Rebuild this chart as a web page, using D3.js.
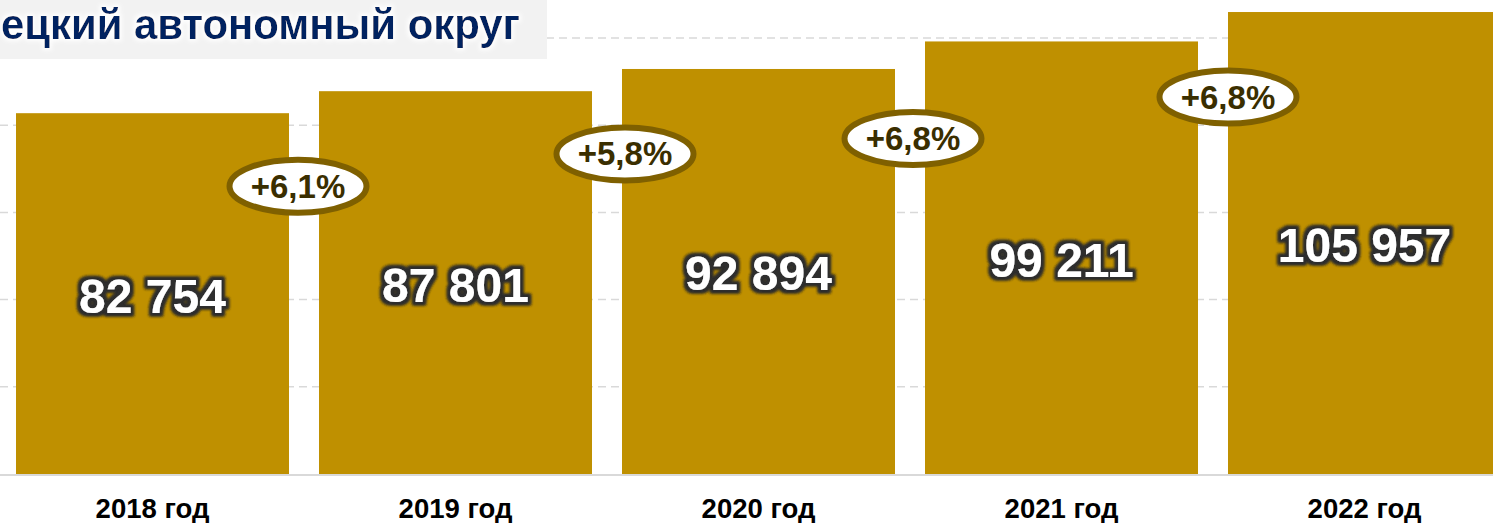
<!DOCTYPE html>
<html lang="ru">
<head>
<meta charset="utf-8">
<script src="https://cdn.jsdelivr.net/npm/d3@7"></script>
<style>
  html, body { margin: 0; padding: 0; background: #ffffff; }
  svg { display: block; font-family: Arial, "Liberation Sans", sans-serif; }
</style>
</head>
<body>
<svg id="chart" width="1493" height="523"></svg>
<script>
// Среднемесячная заработная плата, рублей
const years = ["2018 год", "2019 год", "2020 год", "2021 год", "2022 год"];
const values = [82754, 87801, 92894, 99211, 105957];
const growthLabels = ["+6,1%", "+5,8%", "+6,8%", "+6,8%"];
const gridTicks = [20000, 40000, 60000, 80000, 100000];
const titleText = "ецкий автономный округ";

// placement of the growth badges: shift from the gap centre, drop below the next bar's top
const badgeLayout = [
  { dx: -6, dy: 95 },
  { dx: 18, dy: 85 },
  { dx: 3,  dy: 97 },
  { dx: 15, dy: 85 }
];

const W = 1493, H = 523;
const svg = d3.select("#chart");

const x = d3.scaleBand()
  .domain(years)
  .range([1, 1516])
  .paddingInner(0.099)
  .paddingOuter(0.0495);

const y = d3.scaleLinear()
  .domain([0, 100000])
  .range([474, 38]);

const defs = svg.append("defs");

// dark glow behind white value labels
const halo = defs.append("filter").attr("id", "halo")
  .attr("x", "-20%").attr("y", "-30%").attr("width", "140%").attr("height", "160%");
halo.append("feMorphology").attr("in", "SourceAlpha").attr("operator", "dilate").attr("radius", 2.5).attr("result", "d");
halo.append("feGaussianBlur").attr("in", "d").attr("stdDeviation", 1.5).attr("result", "b");
halo.append("feFlood").attr("flood-color", "#2e2e2e");
halo.append("feComposite").attr("in2", "b").attr("operator", "in").attr("result", "s");
const hm = halo.append("feMerge");
hm.append("feMergeNode").attr("in", "s");
hm.append("feMergeNode").attr("in", "s");
hm.append("feMergeNode").attr("in", "SourceGraphic");

// soft white glow behind the title
const glow = defs.append("filter").attr("id", "glow")
  .attr("x", "-5%").attr("y", "-30%").attr("width", "110%").attr("height", "160%");
glow.append("feMorphology").attr("in", "SourceAlpha").attr("operator", "dilate").attr("radius", 1.5).attr("result", "d");
glow.append("feGaussianBlur").attr("in", "d").attr("stdDeviation", 2).attr("result", "b");
glow.append("feFlood").attr("flood-color", "#ffffff");
glow.append("feComposite").attr("in2", "b").attr("operator", "in").attr("result", "s");
const gm = glow.append("feMerge");
gm.append("feMergeNode").attr("in", "s");
gm.append("feMergeNode").attr("in", "SourceGraphic");

// dashed horizontal gridlines
svg.append("g")
  .selectAll("line")
  .data(gridTicks)
  .join("line")
  .attr("x1", 0).attr("x2", W)
  .attr("y1", d => y(d)).attr("y2", d => y(d))
  .attr("stroke", "#d9d9d9")
  .attr("stroke-width", 1.5)
  .attr("stroke-dasharray", "8,5");

// baseline
svg.append("line")
  .attr("x1", 0).attr("x2", W)
  .attr("y1", y(0) + 1).attr("y2", y(0) + 1)
  .attr("stroke", "#d9d9d9")
  .attr("stroke-width", 2);

// bars
svg.append("g")
  .selectAll("rect")
  .data(values)
  .join("rect")
  .attr("x", (d, i) => x(years[i]))
  .attr("y", d => y(d))
  .attr("width", x.bandwidth())
  .attr("height", d => y(0) - y(d))
  .attr("fill", "#bf9000");

// value labels inside bars
svg.append("g")
  .selectAll("text")
  .data(values)
  .join("text")
  .attr("x", (d, i) => x(years[i]) + x.bandwidth() / 2)
  .attr("y", d => (y(d) + y(0)) / 2 + 2 + 17)
  .attr("text-anchor", "middle")
  .attr("font-size", 48)
  .attr("font-weight", "bold")
  .attr("fill", "#ffffff")
  .attr("filter", "url(#halo)")
  .text(d => d3.format(",")(d).replace(/,/g, " "));

// growth badges between neighbouring bars
const badges = svg.append("g")
  .selectAll("g")
  .data(growthLabels)
  .join("g")
  .attr("transform", (d, i) => {
    const gapCenter = (x(years[i]) + x.bandwidth() + x(years[i + 1])) / 2;
    const cx = gapCenter + badgeLayout[i].dx;
    const cy = y(values[i + 1]) + badgeLayout[i].dy;
    return `translate(${cx},${cy})`;
  });

badges.append("ellipse")
  .attr("rx", 68.5)
  .attr("ry", 26.5)
  .attr("fill", "#ffffff")
  .attr("stroke", "#7f6000")
  .attr("stroke-width", 6);

badges.append("text")
  .attr("text-anchor", "middle")
  .attr("y", 11.5)
  .attr("font-size", 33)
  .attr("font-weight", "bold")
  .attr("fill", "#3a2e00")
  .text(d => d);

// category axis labels
svg.append("g")
  .selectAll("text")
  .data(years)
  .join("text")
  .attr("x", d => x(d) + x.bandwidth() / 2)
  .attr("y", 518)
  .attr("text-anchor", "middle")
  .attr("font-size", 27.5)
  .attr("font-weight", "bold")
  .attr("fill", "#000000")
  .text(d => d);

// title plate
svg.append("rect")
  .attr("x", 0).attr("y", 0)
  .attr("width", 547).attr("height", 59)
  .attr("fill", "#f2f2f2");

const title = svg.append("text")
  .attr("x", 1)
  .attr("y", 39)
  .attr("font-size", 43)
  .attr("font-weight", "bold")
  .attr("fill", "#002060")
  .attr("filter", "url(#glow)")
  .text(titleText);

// keep the title inside its plate
const tl = title.node().getComputedTextLength();
if (Math.abs(tl - 519) > 4) {
  title.attr("textLength", 519).attr("lengthAdjust", "spacingAndGlyphs");
}
</script>
</body>
</html>
